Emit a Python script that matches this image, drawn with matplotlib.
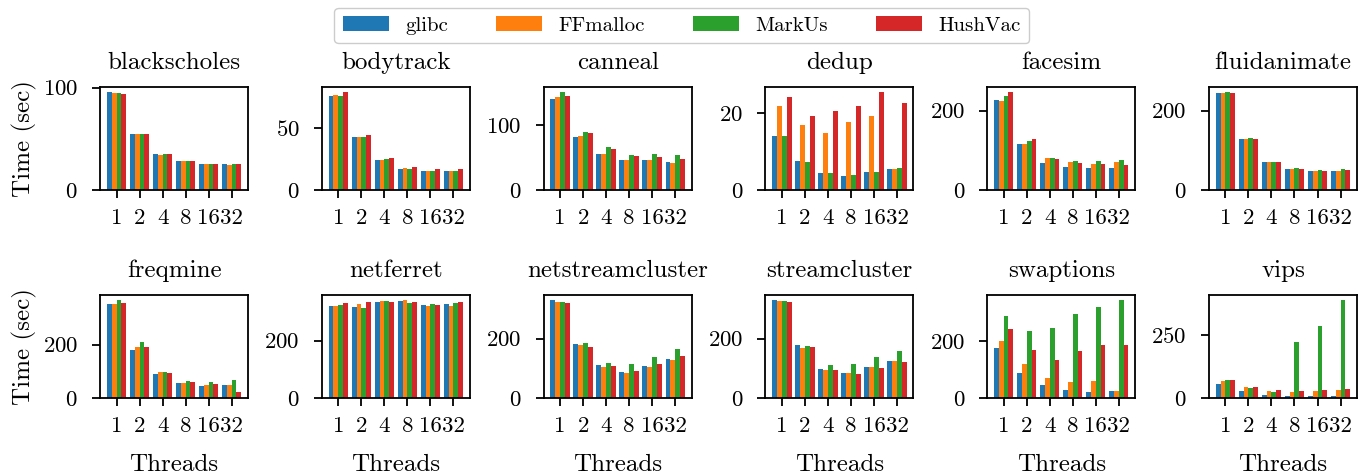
import numpy as np
import matplotlib
matplotlib.use("Agg")
from matplotlib import pyplot as plt
from matplotlib.ticker import MaxNLocator

plt.rcParams["font.family"] = "serif"
plt.rcParams["font.serif"] = ["cmr10", "DejaVu Serif"]
plt.rcParams["mathtext.fontset"] = "cm"
plt.rcParams["axes.formatter.use_mathtext"] = True
plt.rcParams["axes.linewidth"] = 1.3
plt.rcParams["xtick.major.width"] = 1.3
plt.rcParams["ytick.major.width"] = 1.3
plt.rcParams["xtick.major.size"] = 6
plt.rcParams["ytick.major.size"] = 6
plt.rcParams["xtick.major.pad"] = 7.5
plt.rcParams["ytick.major.pad"] = 10

threads = ["1", "2", "4", "8", "16", "32"]
allocators = ["glibc", "FFmalloc", "MarkUs", "HushVac"]
colors = ["#1f77b4", "#ff7f0e", "#2ca02c", "#d62728"]

benchmarks = ["blackscholes", "bodytrack", "canneal", "dedup", "facesim", "fluidanimate",
              "freqmine", "netferret", "netstreamcluster", "streamcluster", "swaptions", "vips"]

# times[benchmark] = [glibc, FFmalloc, MarkUs, HushVac], each over threads 1..32
times = {
    "blackscholes": [[95.8, 55.2, 34.8, 28.0, 25.2, 25.2],
                     [94.8, 55.2, 33.9, 28.0, 25.2, 24.2],
                     [94.8, 55.2, 34.8, 28.0, 25.2, 25.2],
                     [93.9, 55.2, 34.8, 28.0, 25.2, 25.2]],
    "bodytrack": [[75.8, 43.1, 23.9, 16.8, 15.2, 15.2],
                  [76.6, 43.1, 23.9, 17.6, 15.2, 15.2],
                  [75.8, 43.1, 24.7, 16.8, 15.2, 15.2],
                  [79.0, 44.7, 25.5, 18.4, 16.8, 16.8]],
    "canneal": [[140.0, 82.2, 54.8, 45.7, 45.7, 42.6],
                [143.0, 83.8, 54.8, 45.7, 45.7, 41.1],
                [150.8, 89.8, 65.5, 53.3, 54.8, 53.3],
                [144.7, 88.3, 62.4, 51.8, 50.3, 47.2]],
    "dedup": [[14.2, 7.5, 4.4, 3.6, 4.7, 5.4],
              [22.0, 17.1, 15.0, 17.8, 19.4, 5.4],
              [14.0, 7.2, 4.4, 3.9, 4.7, 5.7],
              [24.3, 19.4, 20.7, 22.0, 25.6, 22.8]],
    "facesim": [[226.6, 117.0, 67.2, 57.3, 54.8, 54.8],
                [224.0, 117.0, 79.7, 69.7, 64.7, 69.7],
                [236.5, 124.5, 79.7, 72.2, 72.2, 74.7],
                [246.5, 129.5, 77.2, 67.2, 64.7, 62.2]],
    "fluidanimate": [[244.0, 129.5, 69.7, 52.3, 47.3, 47.3],
                     [244.0, 129.5, 69.7, 52.3, 47.3, 47.3],
                     [246.5, 132.0, 69.7, 54.8, 49.8, 52.3],
                     [244.0, 129.5, 69.7, 52.3, 47.3, 49.8]],
    "freqmine": [[353.0, 179.0, 90.0, 56.8, 45.7, 49.4],
                 [353.0, 190.0, 97.5, 56.8, 49.4, 49.4],
                 [368.0, 208.6, 97.5, 64.2, 60.5, 67.9],
                 [357.0, 190.0, 93.8, 60.5, 53.1, 23.5]],
    "netferret": [[321.8, 318.0, 335.6, 339.0, 325.0, 328.7],
                  [321.8, 328.7, 339.0, 342.5, 321.8, 321.8],
                  [325.0, 315.0, 339.0, 332.0, 328.7, 332.0],
                  [332.0, 335.6, 335.6, 335.6, 325.0, 335.6]],
    "netstreamcluster": [[331.0, 181.0, 111.0, 87.8, 107.8, 131.0],
                         [324.4, 177.8, 104.4, 84.4, 104.4, 127.8],
                         [324.4, 184.4, 117.8, 114.4, 137.8, 164.4],
                         [321.0, 171.0, 107.8, 91.0, 114.4, 141.0]],
    "streamcluster": [[331.0, 177.8, 97.8, 84.4, 104.4, 124.4],
                      [327.8, 167.8, 94.4, 84.4, 104.4, 124.4],
                      [327.8, 174.4, 111.0, 114.4, 137.8, 157.8],
                      [324.4, 171.0, 94.4, 81.0, 101.0, 121.0]],
    "swaptions": [[174.6, 87.9, 46.2, 28.9, 22.0, 25.4],
                  [198.8, 119.0, 70.5, 56.6, 60.0, 25.4],
                  [289.0, 233.5, 247.4, 296.0, 320.0, 344.5],
                  [244.0, 167.6, 133.0, 164.2, 185.0, 185.0]],
    "vips": [[56.3, 28.8, 13.0, 9.2, 9.2, 9.2],
             [68.0, 44.5, 28.8, 24.9, 28.8, 32.7],
             [72.0, 40.6, 24.9, 221.0, 288.0, 390.0],
             [72.0, 44.5, 32.7, 28.8, 32.7, 36.6]],
}

fig, axes = plt.subplots(2, 6, figsize=(13.72, 4.76), dpi=100)
fig.subplots_adjust(left=0.073, right=0.989, top=0.817, bottom=0.164,
                    wspace=0.50, hspace=1.02)

x = np.arange(len(threads))
width = 0.21
handles = []
for idx, name in enumerate(benchmarks):
    ax = axes[idx // 6][idx % 6]
    for j, alloc in enumerate(allocators):
        b = ax.bar(x + (j - 1.5) * width, times[name][j], width,
                   color=colors[j], label=alloc)
        if idx == 0:
            handles.append(b)
    ax.set_title(name, fontsize=18, pad=13)
    ax.set_xticks(x)
    ax.set_xticklabels(threads)
    ax.yaxis.set_major_locator(MaxNLocator(nbins=2, steps=[1, 2, 2.5, 5, 10]))
    ax.tick_params(labelsize=16.5)
    if idx % 6 == 0:
        ax.set_ylabel("Time (sec)", fontsize=18)
    if idx >= 6:
        ax.set_xlabel("Threads", fontsize=18, labelpad=13)

fig.legend(handles, allocators, loc="upper center", bbox_to_anchor=(0.497, 1.005),
           ncol=4, fontsize=15, handlelength=2.2, columnspacing=2.3,
           fancybox=True, framealpha=1.0)

fig.savefig("out.png", dpi=100)
